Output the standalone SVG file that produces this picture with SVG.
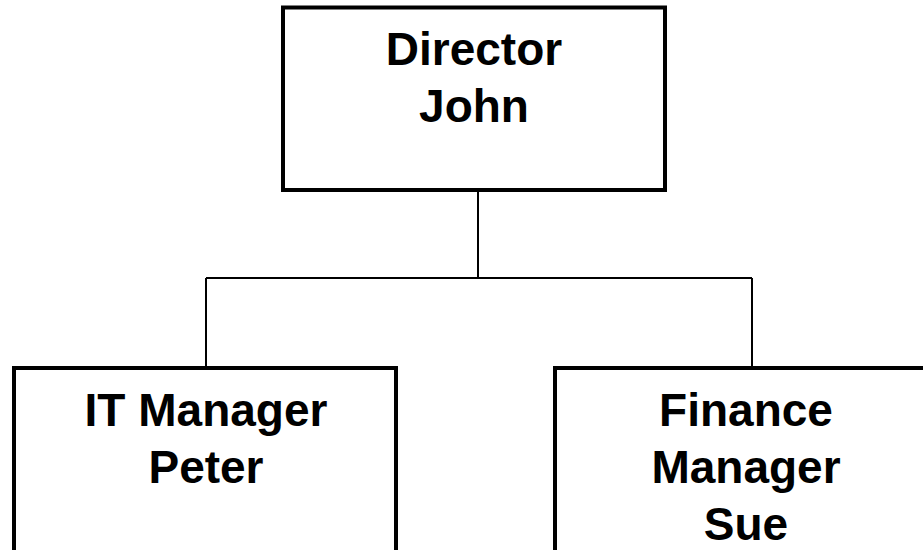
<svg xmlns="http://www.w3.org/2000/svg" width="923" height="550" viewBox="0 0 923 550">
<style>
.box{fill:#fff;stroke:#000;stroke-width:4}
.lbl{font-family:"Liberation Sans",Arial,sans-serif;font-weight:bold;font-size:46px;fill:#000;text-anchor:middle}
.conn{fill:none;stroke:#000;stroke-width:2}
</style>
<rect width="923" height="550" fill="#fff"/>
<g id="connectors">
<path class="conn" d="M478,192 V278"/>
<path class="conn" d="M206,278 H752"/>
<path class="conn" d="M206,278 V368"/>
<path class="conn" d="M752,278 V368"/>
</g>
<g id="director">
<rect class="box" x="283" y="7.5" width="382" height="182.5"/>
<text class="lbl" x="474" y="65">Director</text>
<text class="lbl" x="474" y="122">John</text>
</g>
<g id="it-manager">
<rect class="box" x="14" y="368" width="382" height="200"/>
<text class="lbl" x="206" y="426">IT Manager</text>
<text class="lbl" x="206" y="483">Peter</text>
</g>
<g id="finance-manager">
<rect class="box" x="555" y="368" width="382" height="200"/>
<text class="lbl" x="746" y="426">Finance</text>
<text class="lbl" x="746" y="483">Manager</text>
<text class="lbl" x="746" y="540">Sue</text>
</g>
</svg>
